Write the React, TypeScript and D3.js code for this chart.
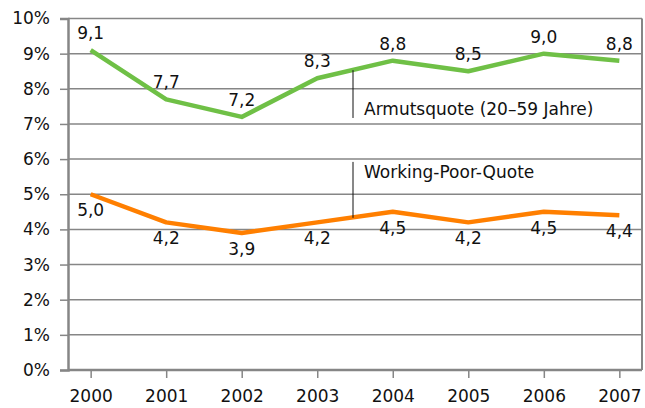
import React, { useRef, useEffect } from 'react';
import * as d3 from 'd3';

const years = ['2000', '2001', '2002', '2003', '2004', '2005', '2006', '2007'];
const armutsquote = [9.1, 7.7, 7.2, 8.3, 8.8, 8.5, 9.0, 8.8];
const workingPoor = [5.0, 4.2, 3.9, 4.2, 4.5, 4.2, 4.5, 4.4];
const yTicks = [0, 1, 2, 3, 4, 5, 6, 7, 8, 9, 10];

// callouts: label, line from value to value, placed between 2003 and 2004
const callouts = [
  { label: 'Armutsquote (20–59 Jahre)', from: 8.53, to: 7.17 },
  { label: 'Working-Poor-Quote', from: 5.92, to: 4.33 },
];

const FONT = '"DejaVu Sans", sans-serif';
const GREEN = '#6fc046';
const ORANGE = '#ff7f00';
const GRID = '#868686';

const fmt = (v: number) => v.toFixed(1).replace('.', ',');

export default function App() {
  const svgRef = useRef<SVGSVGElement>(null);

  useEffect(() => {
    if (!svgRef.current) return;
    const svg = d3.select(svgRef.current);
    svg.selectAll('*').remove();

    const W = 645, H = 408;
    const left = 68, right = 642, top = 18.5, bottom = 370;

    const x = d3.scalePoint<string>().domain(years).range([left, right]).padding(0.3);
    const y = d3.scaleLinear().domain([0, 10]).range([bottom, top]);

    svg.attr('width', W).attr('height', H);

    // gridlines
    svg.append('g')
      .selectAll('line')
      .data(yTicks.filter(t => t > 0))
      .join('line')
      .attr('x1', left).attr('x2', right)
      .attr('y1', d => y(d)).attr('y2', d => y(d))
      .attr('stroke', GRID).attr('stroke-width', 1.5);

    // right border
    svg.append('line')
      .attr('x1', right).attr('x2', right).attr('y1', top).attr('y2', bottom)
      .attr('stroke', GRID).attr('stroke-width', 2);

    // y axis
    const yAxis = svg.append('g')
      .attr('transform', `translate(${left},0)`)
      .call(d3.axisLeft(y).tickValues(yTicks).tickSize(8).tickPadding(10).tickFormat(d => `${d}%`));
    yAxis.select('.domain').attr('stroke', GRID).attr('stroke-width', 2.5);
    yAxis.selectAll('.tick line').attr('stroke', GRID).attr('stroke-width', 1.5);
    yAxis.selectAll('.tick text')
      .attr('fill', '#111').style('font-family', FONT).style('font-size', '17px');

    // x axis
    const xAxis = svg.append('g')
      .attr('transform', `translate(0,${bottom})`)
      .call(d3.axisBottom(x).tickSize(8).tickPadding(12).tickSizeOuter(0));
    xAxis.select('.domain').attr('stroke', GRID).attr('stroke-width', 2.5)
      .attr('d', `M${left},0H${right}`);
    xAxis.selectAll('.tick line').attr('stroke', GRID).attr('stroke-width', 1.5);
    xAxis.selectAll('.tick text')
      .attr('fill', '#111').style('font-family', FONT).style('font-size', '17px');

    const series = [
      { values: armutsquote, color: GREEN, dy: -11 },
      { values: workingPoor, color: ORANGE, dy: 22 },
    ];

    series.forEach(s => {
      const line = d3.line<number>()
        .x((_, i) => x(years[i]) as number)
        .y(d => y(d));
      svg.append('path')
        .datum(s.values)
        .attr('fill', 'none')
        .attr('stroke', s.color)
        .attr('stroke-width', 4.5)
        .attr('stroke-linejoin', 'round')
        .attr('d', line);

      svg.append('g')
        .selectAll('text')
        .data(s.values)
        .join('text')
        .attr('x', (_, i) => x(years[i]) as number)
        .attr('y', d => y(d) + s.dy)
        .attr('text-anchor', 'middle')
        .attr('fill', '#111')
        .style('font-family', FONT)
        .style('font-size', '17px')
        .text(d => fmt(d));
    });

    // callouts
    const cx = ((x('2003') as number) + (x('2004') as number)) / 2 - 2;
    callouts.forEach(c => {
      svg.append('line')
        .attr('x1', cx).attr('x2', cx)
        .attr('y1', y(c.from)).attr('y2', y(c.to))
        .attr('stroke', '#111').attr('stroke-width', 1);
    });
    svg.append('text')
      .attr('x', cx + 11).attr('y', 115)
      .attr('fill', '#111').style('font-family', FONT).style('font-size', '17px')
      .text(callouts[0].label);
    svg.append('text')
      .attr('x', cx + 11).attr('y', 178)
      .attr('fill', '#111').style('font-family', FONT).style('font-size', '17px')
      .text(callouts[1].label);
  }, []);

  return <svg ref={svgRef} style={{ position: 'absolute', left: 0, top: 0 }}></svg>;
}
